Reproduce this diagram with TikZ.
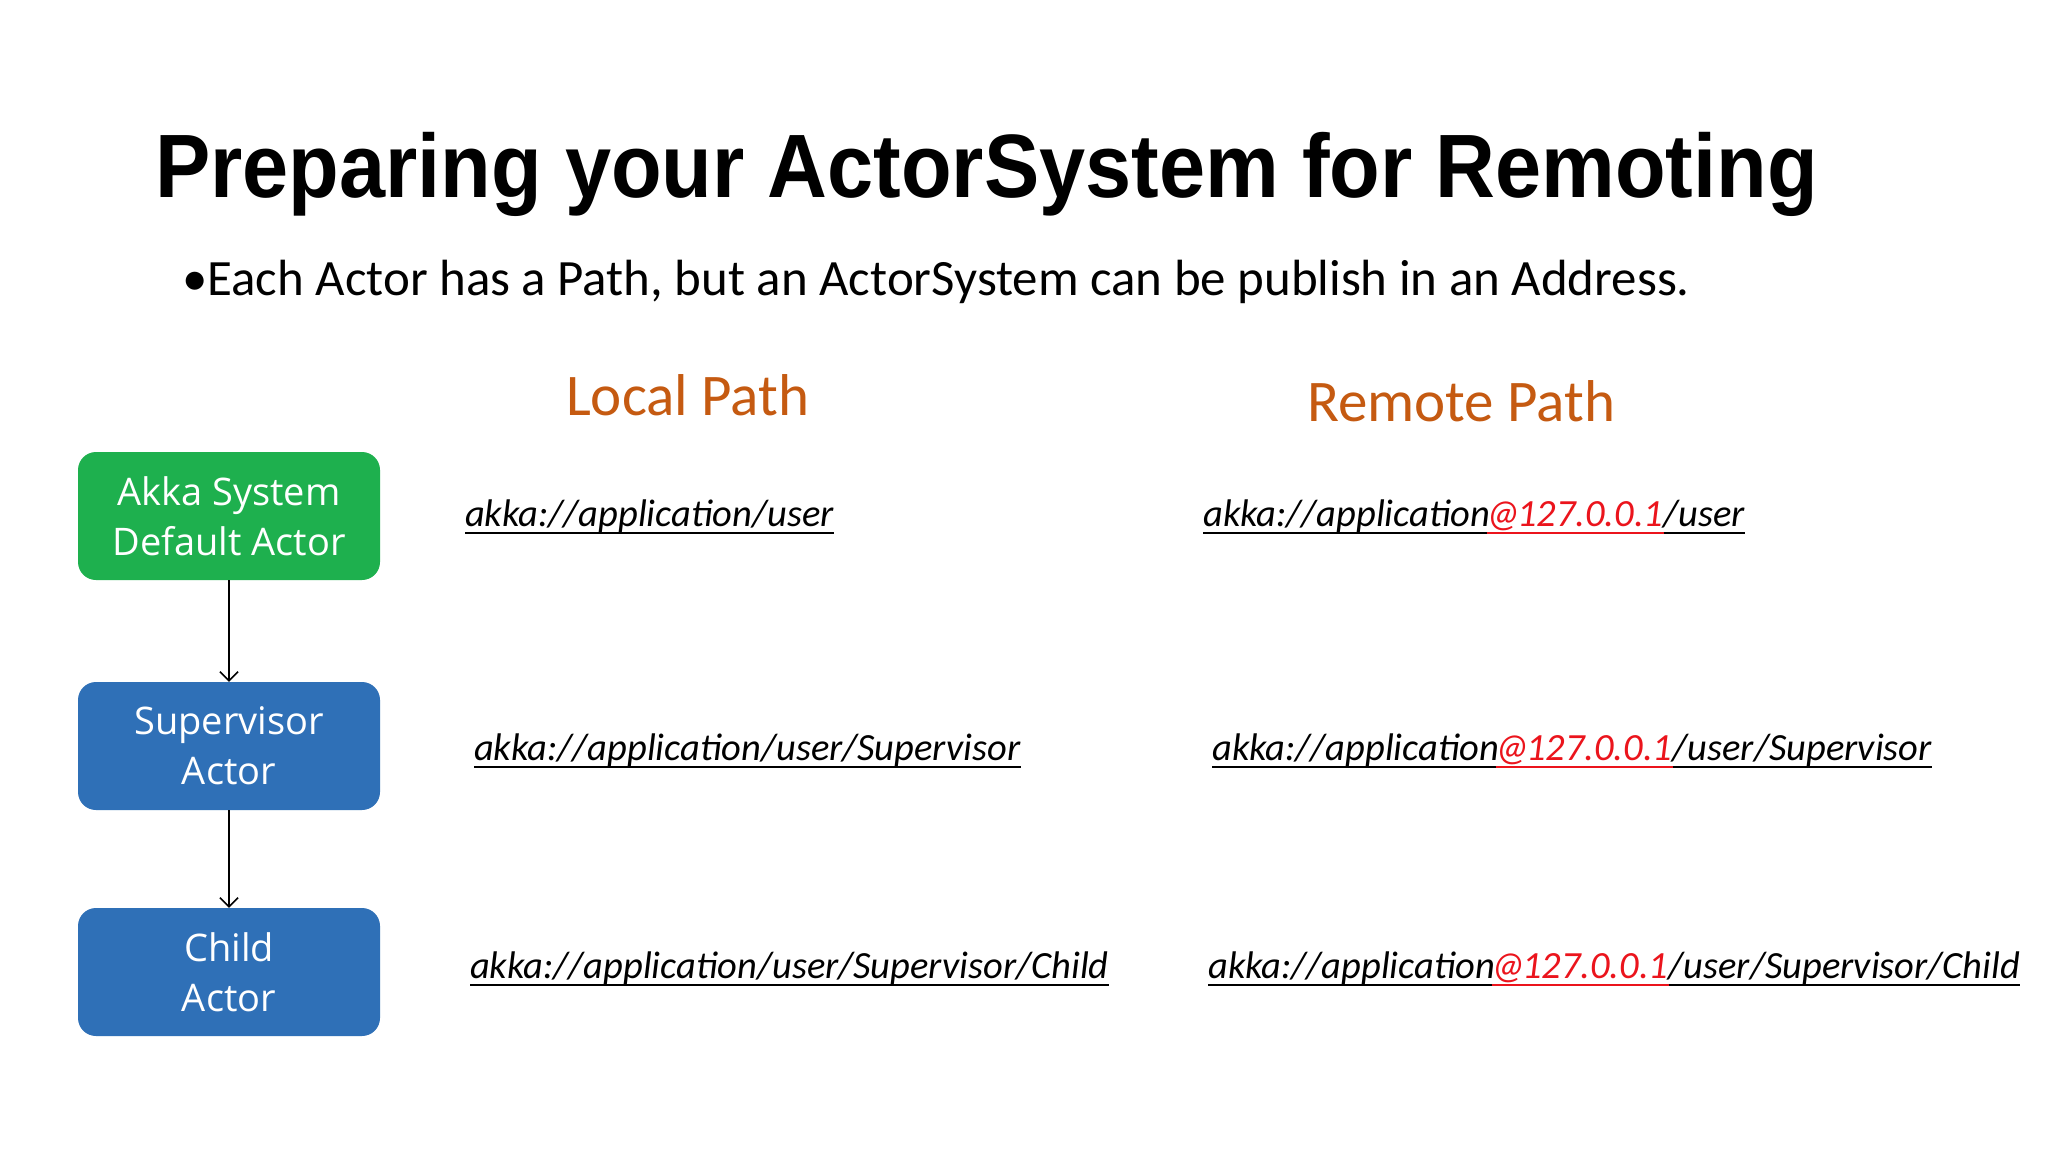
\documentclass[tikz,border=0pt]{standalone}
\usepackage{fontspec}
\usetikzlibrary{arrows.meta}
\setmainfont{Carlito}
\newfontfamily\titlefont{Liberation Sans}
\newfontfamily\boxfont{Open Sans}
\definecolor{akgreen}{RGB}{30,176,78}
\definecolor{akblue}{RGB}{47,112,183}
\definecolor{headorange}{RGB}{197,90,17}
\definecolor{ipred}{RGB}{235,20,28}
\newcommand\ipaddr{@\kern-4pt 127.0.0.1}
\tikzset{
  abox/.style={rounded corners=18pt, minimum width=302pt, minimum height=128pt,
    align=center, text=white, inner sep=0pt,
    font=\boxfont\fontsize{38}{50}\selectfont},
  pth/.style={anchor=base west, inner sep=0pt, font=\itshape\fontsize{38.5}{44}\selectfont},
  heading/.style={anchor=base west, inner sep=0pt, text=headorange, font=\fontsize{59}{66}\selectfont},
  ul/.style={line width=2.6pt},
  flow/.style={line width=1.6pt, -{Straight Barb[length=9pt,width=18pt,line width=1.6pt]}}
}
\begin{document}
\begin{tikzpicture}[x=1pt,y=-1pt]
\path[use as bounding box, fill=white] (0,0) rectangle (2048,1152);

% title and subtitle
\node[anchor=base west, inner sep=0pt] (title) at (155,197)
  {\scalebox{0.921}[1]{\titlefont\bfseries\fontsize{90}{100}\selectfont Preparing your ActorSystem for Remoting}};
\node[anchor=base west, inner sep=0pt, font=\fontsize{50.9}{60}\selectfont] (sub) at (182,295)
  {•Each Actor has a Path, but an ActorSystem can be publish in an Address.};

% headings
\node[heading] (hlocal) at (566,415) {Local Path};
\node[heading] (hremote) at (1307,421) {Remote Path};

% actor boxes
\node[abox, fill=akgreen] (b1) at (229,516) {Akka System\\Default Actor};
\node[abox, fill=akblue] (b2) at (229,746) {Supervisor\\Actor};
\node[abox, fill=akblue] (b3) at (229,972) {Child\\Actor};
\draw[flow] (b1) -- (b2);
\draw[flow] (b2) -- (b3);

% local paths
\node[pth] (l1) at (465,526) {akka://application/user};
\node[pth] (l2) at (474,760) {akka://application/user/Supervisor};
\node[pth] (l3) at (470,978) {akka://application/user/Supervisor/Child};
\foreach \n in {l1,l2,l3}
  \draw[ul] ([yshift=-7pt]\n.base west) -- ([yshift=-7pt]\n.base east);

% remote paths
\node[pth] (r1a) at (1203,526) {akka://application};
\node[pth, text=ipred] (r1b) at ([xshift=-4pt]r1a.base east) {\ipaddr};
\node[pth] (r1c) at (r1b.base east) {/user};
\node[pth] (r2a) at (1212,760) {akka://application};
\node[pth, text=ipred] (r2b) at ([xshift=-4pt]r2a.base east) {\ipaddr};
\node[pth] (r2c) at (r2b.base east) {/user/Supervisor};
\node[pth] (r3a) at (1208,978) {akka://application};
\node[pth, text=ipred] (r3b) at ([xshift=-4pt]r3a.base east) {\ipaddr};
\node[pth] (r3c) at (r3b.base east) {/user/Supervisor/Child};
\foreach \i in {1,2,3}{
  \draw[ul] ([yshift=-7pt]r\i a.base west) -- ([yshift=-7pt]r\i b.base west);
  \draw[ul, ipred] ([yshift=-7pt]r\i b.base west) -- ([yshift=-7pt]r\i b.base east);
  \draw[ul] ([yshift=-7pt]r\i c.base west) -- ([yshift=-7pt]r\i c.base east);
}
\end{tikzpicture}
\end{document}
